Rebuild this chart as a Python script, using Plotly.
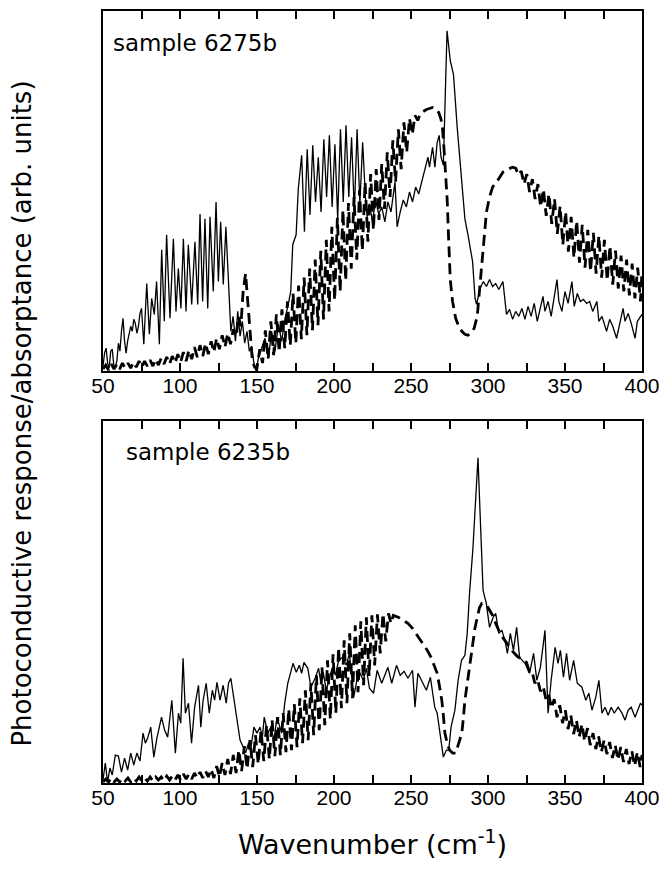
import plotly.graph_objects as go

# ---------------- data (heights in arbitrary units) ----------------
# sample 6275b : photoconductive response (solid)
top_solid_x = [50, 51, 52, 53, 54, 55, 56, 57, 58, 59, 60, 61, 62, 63, 64, 65, 66, 67, 68, 69,
               70, 71, 72, 73, 74, 75, 76.5,
               78.4, 80.1, 81.6, 83.3, 84.8, 86.6, 88.1, 89.8, 91.3, 93.5, 95.7, 97.4, 98.9,
               100.6, 102.2, 103.9, 105.4, 107.6, 109.7, 111.5, 113, 114.7, 116.2, 118, 119.5,
               121.6, 123.4, 124.9, 126.4, 128.1, 129.8, 131.4,
               133, 134.5, 136, 137.5, 139, 140.5, 142, 143.5, 145, 146.5, 148, 149.4,
               150.9, 153, 155.2, 157.4, 159.5, 161.7, 163.9, 166, 168.2, 170.3, 171.9, 173.2,
               175.4, 176.8,
               179, 180.8, 182.6, 184.4, 186.2, 188, 189.8, 191.6, 193.4, 195.2, 197, 198.8,
               200.6, 202.4, 204.2, 206, 207.8, 209.6, 211.4, 213.2, 215, 216.8, 218.6, 220.4,
               221.5, 223, 225, 227, 229, 231, 233, 235, 237, 239.6, 241, 243, 245, 247, 249,
               251, 253, 255, 257, 259, 261, 262, 264, 265.5, 267, 268.3, 269.5, 271,
               273.4, 275.5, 277.6, 280, 283, 285, 287, 290, 291.6, 292.6, 294.8, 297, 299,
               301, 303, 305, 307, 309.7, 312, 314, 316, 318, 320, 322, 324, 326, 328, 330,
               332, 334, 335.7, 337, 339, 341, 343, 344.8, 346, 348, 350, 352, 354.5, 356,
               358, 360, 362, 364, 366, 368, 370.7, 372, 374, 376, 377, 379, 381, 383.5, 385,
               387.7, 389, 391, 393, 395.5, 397, 400]
top_solid_y = [5, 18, 23, 8, 3, 20, 22, 6, 4, 10, 28, 20, 40, 53, 30, 18, 30, 38, 45, 40,
               52, 48, 38, 45, 58, 63, 27,
               88, 37, 73, 57, 90, 27, 122, 50, 137, 53, 133, 60, 103,
               63, 133, 60, 127, 67, 130, 67, 158, 70, 153, 63, 155,
               80, 170, 90, 150, 87, 145, 90,
               40, 55, 30, 60, 35, 50, 28, 40, 20, 25, 8, 0,
               13, 23, 33, 13, 40, 20, 47, 30, 53, 67, 80, 127,
               137, 183,
               217, 140, 223, 157, 227, 170, 215, 160, 233, 175, 237, 165,
               228, 153, 243, 170, 247, 175, 235, 160, 243, 168, 230, 175,
               155, 168, 150, 172, 158, 165, 150, 170, 160, 190, 145, 160, 172, 165, 180,
               170, 185, 178, 190, 200, 215, 205, 225, 205, 230, 237, 215, 207,
               342, 312, 298, 245, 190, 153, 137, 110, 73, 67, 83, 90, 85,
               92, 85, 88, 82, 90, 57, 62, 52, 60, 55, 63, 52, 65, 55, 68,
               50, 62, 75, 60, 70, 55, 75, 92, 70, 60, 80, 68, 90, 65,
               78, 70, 72, 68, 70, 60, 70, 50, 55, 45, 40, 52, 45, 33, 45,
               63, 50, 58, 48, 33, 50, 57]

# sample 6275b : absorptance (dashed)
top_dash_low_start, top_dash_step = 50.0, 1.8
top_dash_low_y = [2, 6, 1, 7, 2, 7, 2, 8, 3, 8, 3, 9, 4, 10, 4, 10, 5, 11, 5, 12,
                  6, 13, 7, 14, 7, 15, 8, 17, 9, 19, 10, 21, 12, 24, 14, 26, 15, 28, 17, 30,
                  19, 33, 22, 36, 24, 38, 27, 42]
top_dash_bump_x = [136.5, 138, 139.5, 141, 142.6, 144, 145.5, 147, 148.5]
top_dash_bump_y = [35, 55, 45, 80, 98, 70, 40, 10, 4]
top_dash_band1_start = 150.0
top_dash_band1_y = [3, 22, 8, 41, 12, 50, 16, 57, 19, 62, 23, 70, 26, 78, 28, 86, 32, 94, 36, 103,
                    41, 112, 46, 121, 52, 132, 60, 145, 71, 154, 80, 162, 91, 169, 103, 175,
                    112, 182, 121, 190, 130, 198, 142, 203, 152, 208, 163, 220, 175, 232,
                    190, 243, 203, 250, 220, 254, 238, 257, 252]
top_dash_mid_x = [256, 258, 260, 262, 264, 266, 268, 269.5, 270.5, 271.5, 272.5, 273.5, 274.5,
                  275.5, 277, 279, 281, 283, 285, 287, 289, 291, 293, 294.5, 296, 297.5, 299,
                  301, 303, 306, 309.7, 313, 316]
top_dash_mid_y = [259, 261, 263, 264, 265, 264, 260, 253, 243, 222, 195, 172, 130,
                  92, 70, 53, 45, 40, 37, 36, 38, 43, 55, 80, 110, 135, 160,
                  175, 185, 191, 200, 203, 205]
top_dash_band2_start = 318.0
top_dash_band2_y = [204, 197, 201, 188, 198, 180, 193, 173, 188, 165, 183, 156, 178, 148, 173, 138,
                    166, 127, 160, 120, 155, 114, 151, 109, 147, 104, 142, 100, 139, 98, 136, 94,
                    132, 91, 126, 87, 121, 83, 116, 80, 112, 76, 108, 73, 104, 70]
top_dash_end_x = [400]
top_dash_end_y = [100]

# sample 6235b : photoconductive response (solid)
bot_solid_x = [50, 51.5, 53, 54.5, 56, 58, 60, 62, 64, 66, 68, 70, 72, 74, 76, 77.5, 79, 81, 83,
               85, 88, 90, 92, 94.7, 97, 99, 100.5, 102, 103.5, 105.5, 107.5, 109.5, 112, 113.5,
               115, 117, 119, 121, 122.5, 124, 126, 128, 130, 131.5, 133, 135, 137, 139, 141,
               142.5, 144.5, 146, 148, 150, 152, 153.5, 154.7, 157, 159, 161, 163, 166, 168,
               170, 173.4, 175.5, 177.5, 179, 180.5, 183, 185, 188, 190, 191.5, 193, 195, 197,
               199, 201, 203, 205.6, 208, 210, 211, 212, 212.8, 214.5, 216, 219, 221, 223,
               225.7, 228, 231, 235, 237.5, 240.6, 243, 245.5, 248, 251, 252.6, 254.5, 257,
               260, 262.6, 265.4, 267, 269, 271, 273, 274.5, 276, 278.5, 280.6, 282.8, 285,
               286.5, 288, 290.2, 292, 293.5, 295, 296.8, 298.9, 301, 303.3, 305, 307, 309,
               311, 312.6, 314.5, 316.5, 318.6, 320.5, 324, 327, 329.6, 331.7, 334, 337, 339,
               341, 343.6, 345.5, 347, 349, 351, 353, 355.6, 358, 361, 363.5, 365.5, 367.5,
               370, 372, 374, 376, 378, 380, 382, 384.5, 387, 389, 391, 393, 395.5, 397, 399,
               400]
bot_solid_y = [3, 20, 1, 15, 8, 28, 27, 11, 25, 13, 30, 18, 30, 22, 50, 40, 45, 56, 26,
               45, 66, 53, 46, 83, 30, 70, 60, 125, 70, 80, 40, 76, 98, 56,
               83, 100, 70, 93, 83, 101, 83, 98, 80, 100, 105, 83, 66, 43, 36,
               30, 40, 35, 56, 50, 56, 46, 66, 50, 56, 43, 66, 50, 80,
               100, 120, 111, 118, 110, 121, 115, 96, 106, 115, 100, 111, 93, 105,
               116, 108, 123, 126, 118, 130, 116, 100, 86, 100, 113, 103, 115, 95,
               90, 113, 100, 116, 100, 118, 108, 112, 105, 113, 76, 110, 102,
               93, 106, 76, 70, 50, 26, 33, 33, 56, 73, 103, 123, 128,
               150, 190, 235, 285, 326, 265, 193, 180, 156, 166, 170, 150, 153,
               143, 130, 150, 133, 156, 126, 120, 110, 130, 103, 116, 153, 70,
               103, 136, 120, 133, 106, 130, 103, 123, 100, 96, 83, 90, 73,
               86, 103, 70, 76, 68, 76, 70, 76, 70, 63, 73, 76, 66, 72, 80,
               78]

# sample 6235b : absorptance (dashed)
bot_dash_low_start, bot_dash_step = 50.0, 1.8
bot_dash_low_y = [1, 4, 1, 5, 1, 4, 1, 5, 2, 5, 1, 5, 2, 6, 2, 5, 2, 6, 2, 6,
                  3, 6, 2, 7, 3, 7, 3, 8, 3, 9, 4, 9, 4, 10, 5, 11, 5, 12, 6]
bot_dash_band1_start = 120.2
bot_dash_band1_y = [14, 5, 17, 6, 20, 8, 24, 9, 28, 10, 33, 12, 37, 14, 43, 16, 48, 19, 53, 22,
                    58, 24, 63, 27, 66, 28, 70, 31, 74, 33, 79, 36, 85, 40, 93, 43, 100, 48, 108, 53,
                    116, 58, 123, 64, 129, 70, 136, 75, 143, 80, 150, 85, 158, 91, 162, 98, 166, 107,
                    168, 118, 169, 130, 170, 142, 170]
bot_dash_mid_x = [237, 238.5, 242, 245, 248, 251, 255, 258, 261, 263, 265, 267, 268.5, 270, 271,
                  272, 273.5, 275, 277, 279, 281, 283, 284, 285, 287, 288, 289, 290, 291.5, 293,
                  294.5, 296, 298, 300, 303, 305, 307, 310, 313, 316, 319, 323]
bot_dash_mid_y = [160, 168, 166, 163, 160, 155, 146, 140, 132, 126, 118, 110, 97, 83, 68,
                  50, 40, 33, 30, 30, 40, 50, 65, 83, 105, 116, 130, 143, 155, 166,
                  176, 180, 179, 176, 168, 160, 153, 145, 138, 132, 127, 123]
bot_dash_band2_start = 325.0
bot_dash_band2_y = [121, 112, 112, 100, 104, 92, 97, 84, 89, 75, 84, 66, 78, 60, 73, 54, 68, 49, 63, 46,
                    59, 42, 55, 38, 50, 34, 47, 31, 43, 29, 41, 25, 38, 23, 36, 21, 34, 19, 32, 17,
                    31, 16]
bot_dash_end_x = [400]
bot_dash_end_y = [28]

panel_labels = ["sample 6275b", "sample 6235b"]
x_title = "Wavenumber (cm<sup>-1</sup>)"
y_title = "Photoconductive response/absorptance (arb. units)"


def grid(start, step, n):
    return [round(start + step * i, 2) for i in range(n)]


top_dash_x = (grid(top_dash_low_start, top_dash_step, len(top_dash_low_y)) + top_dash_bump_x
              + grid(top_dash_band1_start, top_dash_step, len(top_dash_band1_y)) + top_dash_mid_x
              + grid(top_dash_band2_start, top_dash_step, len(top_dash_band2_y)) + top_dash_end_x)
top_dash_y = (top_dash_low_y + top_dash_bump_y + top_dash_band1_y + top_dash_mid_y
              + top_dash_band2_y + top_dash_end_y)

bot_dash_x = (grid(bot_dash_low_start, bot_dash_step, len(bot_dash_low_y))
              + grid(bot_dash_band1_start, bot_dash_step, len(bot_dash_band1_y)) + bot_dash_mid_x
              + grid(bot_dash_band2_start, bot_dash_step, len(bot_dash_band2_y)) + bot_dash_end_x)
bot_dash_y = bot_dash_low_y + bot_dash_band1_y + bot_dash_mid_y + bot_dash_band2_y + bot_dash_end_y

# ---------------- figure ----------------
fig = go.Figure()
solid = dict(color="black", width=1.3)
dashed = dict(color="black", width=2.8, dash="11px,6px")

fig.add_trace(go.Scatter(x=top_dash_x, y=top_dash_y, mode="lines", line=dashed,
                         xaxis="x", yaxis="y", showlegend=False))
fig.add_trace(go.Scatter(x=top_solid_x, y=top_solid_y, mode="lines", line=solid,
                         xaxis="x", yaxis="y", showlegend=False))
fig.add_trace(go.Scatter(x=bot_dash_x, y=bot_dash_y, mode="lines", line=dashed,
                         xaxis="x2", yaxis="y2", showlegend=False))
fig.add_trace(go.Scatter(x=bot_solid_x, y=bot_solid_y, mode="lines", line=solid,
                         xaxis="x2", yaxis="y2", showlegend=False))

tick_font = dict(family="Liberation Sans, Arial, sans-serif", size=21, color="black")
xcommon = dict(range=[50, 400], tickmode="linear", tick0=50, dtick=50,
               ticks="inside", ticklen=8, tickwidth=2, tickcolor="black",
               minor=dict(dtick=25, tick0=50, ticks="inside", ticklen=8, tickwidth=2,
                          tickcolor="black", showgrid=False),
               showline=True, linewidth=2, linecolor="black", mirror="ticks",
               showgrid=False, zeroline=False, tickfont=tick_font, ticklabelstandoff=-5)
ycommon = dict(showticklabels=False, ticks="", showline=True, linewidth=2, linecolor="black",
               mirror=True, showgrid=False, zeroline=False)

# page body has an 8px margin: figure is 656x859 placed at (8, 8)
fig.update_layout(
    width=656, height=859,
    margin=dict(l=95, r=22, t=1, b=84),
    paper_bgcolor="white", plot_bgcolor="white",
    xaxis=dict(domain=[0, 1], anchor="y", **xcommon),
    yaxis=dict(domain=[0.5336, 1], anchor="x", range=[0, 362], **ycommon),
    xaxis2=dict(domain=[0, 1], anchor="y2", **xcommon),
    yaxis2=dict(domain=[0, 0.469], anchor="x2", range=[0, 363], **ycommon),
    annotations=[
        dict(text=panel_labels[0], xref="x", yref="y", x=55.5, y=330, xanchor="left",
             yanchor="middle", showarrow=False,
             font=dict(family="DejaVu Sans", size=23, color="black")),
        dict(text=panel_labels[1], xref="x2", yref="y2", x=63.5, y=332, xanchor="left",
             yanchor="middle", showarrow=False,
             font=dict(family="DejaVu Sans", size=23, color="black")),
        dict(text=x_title, xref="paper", yref="paper", x=0.5, y=-0.077, xanchor="center",
             yanchor="middle", showarrow=False,
             font=dict(family="DejaVu Sans", size=27, color="black")),
        dict(text=y_title, xref="paper", yref="paper", x=-0.151, y=0.478, xanchor="center",
             yanchor="middle", textangle=-90, showarrow=False,
             font=dict(family="DejaVu Sans", size=26, color="black")),
    ],
)

fig.write_html("out.html")
